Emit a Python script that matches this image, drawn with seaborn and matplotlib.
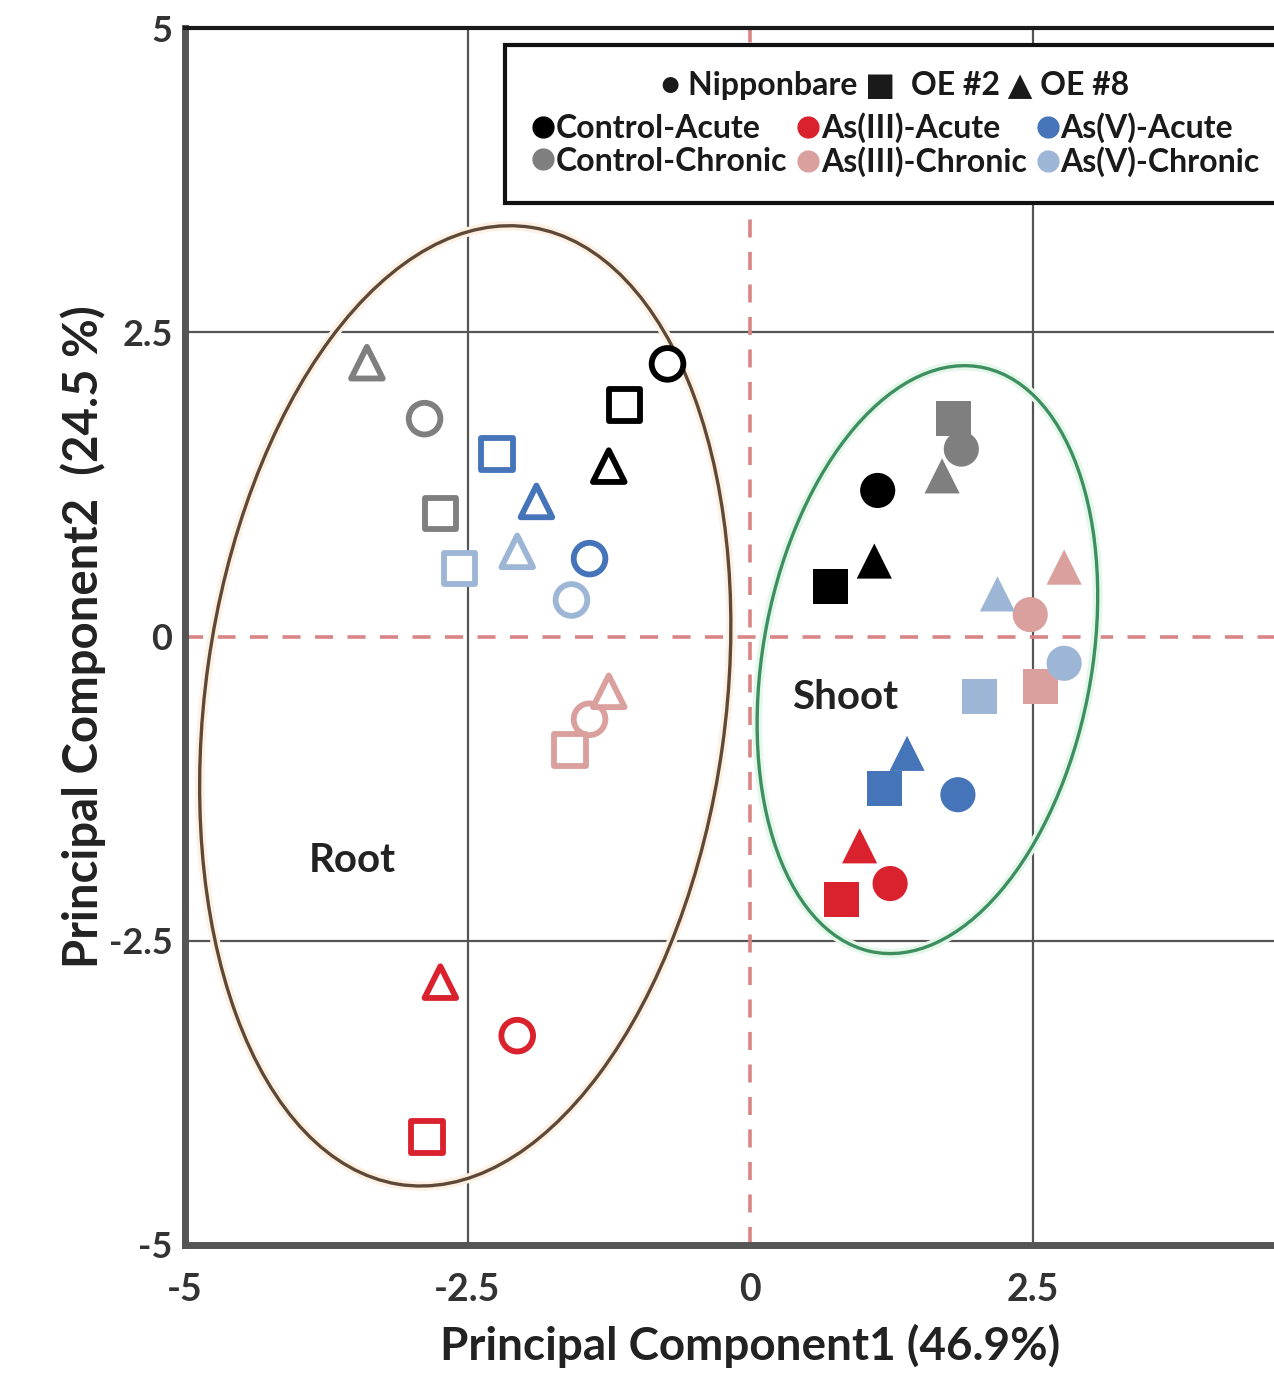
import numpy as np
import pandas as pd
import matplotlib
matplotlib.use("Agg")
import matplotlib.pyplot as plt
import seaborn as sns
from matplotlib.patches import Ellipse
from matplotlib.lines import Line2D

sns.set_theme(style="white")
plt.rcParams['font.family'] = ['Lato', 'DejaVu Sans']

# ---------------- data ----------------
genotypes = ["Nipponbare", "OE #2", "OE #8"]
treatments = ["Control-Acute", "As(III)-Acute", "As(V)-Acute",
              "Control-Chronic", "As(III)-Chronic", "As(V)-Chronic"]

# Root samples (genotype order: Nipponbare, OE #2, OE #8 for each treatment)
root_pc1 = [-0.73, -1.11, -1.25,   # Control-Acute
            -2.06, -2.86, -2.74,   # As(III)-Acute
            -1.42, -2.24, -1.89,   # As(V)-Acute
            -2.88, -2.74, -3.39,   # Control-Chronic
            -1.42, -1.59, -1.25,   # As(III)-Chronic
            -1.58, -2.57, -2.06]   # As(V)-Chronic
root_pc2 = [2.24, 1.90, 1.40,
            -3.28, -4.11, -2.84,
            0.64, 1.50, 1.11,
            1.79, 1.01, 2.25,
            -0.68, -0.93, -0.45,
            0.30, 0.56, 0.70]

# Shoot samples
shoot_pc1 = [1.13, 0.71, 1.10,
             1.24, 0.81, 0.97,
             1.84, 1.19, 1.39,
             1.87, 1.80, 1.70,
             2.48, 2.57, 2.78,
             2.78, 2.03, 2.19]
shoot_pc2 = [1.20, 0.41, 0.62,
             -2.03, -2.16, -1.72,
             -1.30, -1.25, -0.96,
             1.54, 1.79, 1.32,
             0.18, -0.41, 0.57,
             -0.22, -0.49, 0.35]

tick_vals_x = [-5, -2.5, 0, 2.5]
tick_labels_x = ["-5", "-2.5", "0", "2.5"]
tick_vals_y = [-5, -2.5, 0, 2.5, 5]
tick_labels_y = ["-5", "-2.5", "0", "2.5", "5"]

treat_col = [t for t in treatments for _ in genotypes]
geno_col = genotypes * len(treatments)

root_df = pd.DataFrame({"PC1": root_pc1, "PC2": root_pc2,
                        "treatment": treat_col, "genotype": geno_col})
shoot_df = pd.DataFrame({"PC1": shoot_pc1, "PC2": shoot_pc2,
                         "treatment": treat_col, "genotype": geno_col})

palette = {"Control-Acute": "#000000", "As(III)-Acute": "#d9222e",
           "As(V)-Acute": "#4674b8", "Control-Chronic": "#7f7f7f",
           "As(III)-Chronic": "#d9a09e", "As(V)-Chronic": "#9db6d6"}
markers = {"Nipponbare": "o", "OE #2": "s", "OE #8": "^"}

# ---------------- figure ----------------
fig = plt.figure(figsize=(12.74, 13.77), dpi=100)
ax = fig.add_axes([185 / 1274, (1377 - 1245) / 1377, 1130 / 1274, 1217 / 1377])
ax.set_xlim(-5, 5)
ax.set_ylim(-5, 5)

# grid lines
for v in (-2.5, 2.5):
    ax.axvline(v, color="#555555", lw=1.6, zorder=1)
    ax.axhline(v, color="#555555", lw=1.6, zorder=1)
ax.axvline(0, color="#d98585", lw=2.6, ls=(0, (5, 4)), zorder=1)
ax.axhline(0, color="#d98585", lw=2.6, ls=(0, (5, 4)), zorder=1)

# group ellipses
root_ell = dict(xy=(-2.52, -0.57), width=4.6, height=7.95, angle=-8.6)
shoot_ell = dict(xy=(1.57, -0.19), width=2.9, height=4.9, angle=-12)
ax.add_patch(Ellipse(**root_ell, fill=False, ec="#fdf1e4", lw=7, zorder=2))
ax.add_patch(Ellipse(**root_ell, fill=False, ec="#5e4838", lw=2.4, zorder=2))
ax.add_patch(Ellipse(**shoot_ell, fill=False, ec="#e4f7ea", lw=7, zorder=2))
ax.add_patch(Ellipse(**shoot_ell, fill=False, ec="#3d8f60", lw=2.4, zorder=2))

# root: open markers
sns.scatterplot(data=root_df, x="PC1", y="PC2", hue="treatment", style="genotype",
                palette=palette, markers=markers, s=520, legend=False, ax=ax, zorder=4)
coll = ax.collections[-1]
fcs = coll.get_facecolors()
coll.set_edgecolors(fcs)
coll.set_facecolors("white")
coll.set_linewidths(4.2)

# shoot: filled markers
sns.scatterplot(data=shoot_df, x="PC1", y="PC2", hue="treatment", style="genotype",
                palette=palette, markers=markers, s=640, linewidth=0,
                legend=False, ax=ax, zorder=4)

# group labels
ax.text(-3.52, -1.84, "Root", fontsize=29, fontweight="bold",
        color="#222222", ha="center", va="center", zorder=5)
ax.text(0.84, -0.50, "Shoot", fontsize=29, fontweight="bold",
        color="#222222", ha="center", va="center", zorder=5)

# axes styling
ax.set_xticks(tick_vals_x)
ax.set_xticklabels(tick_labels_x, fontsize=27, fontweight="bold", color="#333333")
ax.set_yticks(tick_vals_y)
ax.set_yticklabels(tick_labels_y, fontsize=26, fontweight="bold", color="#333333")
ax.tick_params(axis="x", length=0, pad=20)
ax.tick_params(axis="y", length=0, pad=9)

ax.set_xlabel("Principal Component1 (46.9%)", fontsize=33, fontweight="bold",
              color="#222222", labelpad=12)
ax.set_ylabel("Principal Component2  (24.5 %)", fontsize=34, fontweight="bold",
              color="#222222", labelpad=2)

ax.spines["left"].set_linewidth(5)
ax.spines["left"].set_color("#555555")
ax.spines["bottom"].set_linewidth(5)
ax.spines["bottom"].set_color("#555555")
ax.spines["top"].set_linewidth(3)
ax.spines["top"].set_color("#1a1a1a")
ax.spines["right"].set_visible(False)

# legend
order = ["Control-Acute", "Control-Chronic", "As(III)-Acute",
         "As(III)-Chronic", "As(V)-Acute", "As(V)-Chronic"]
handles = [Line2D([], [], marker="o", ls="", color=palette[t], markersize=15)
           for t in order]
leg = ax.legend(handles, order, loc="upper left", bbox_to_anchor=(0.283, 0.986),
                borderaxespad=0,
                ncol=3, frameon=True, fancybox=False, framealpha=1,
                edgecolor="#111111", handletextpad=0.0, columnspacing=0.25,
                handlelength=0.8, borderpad=0.8, labelspacing=0.12,
                title="\u25cf Nipponbare \u25a0  OE #2 \u25b2 OE #8",
                prop={"size": 23, "weight": "bold"},
                title_fontproperties={"size": 23, "weight": "bold"})
leg._legend_box.sep = 9
leg.get_frame().set_linewidth(3)
for t in leg.get_texts():
    t.set_color("#1a1a1a")
leg.get_title().set_color("#1a1a1a")
leg.set_zorder(6)

fig.savefig("out.png", dpi=100)
